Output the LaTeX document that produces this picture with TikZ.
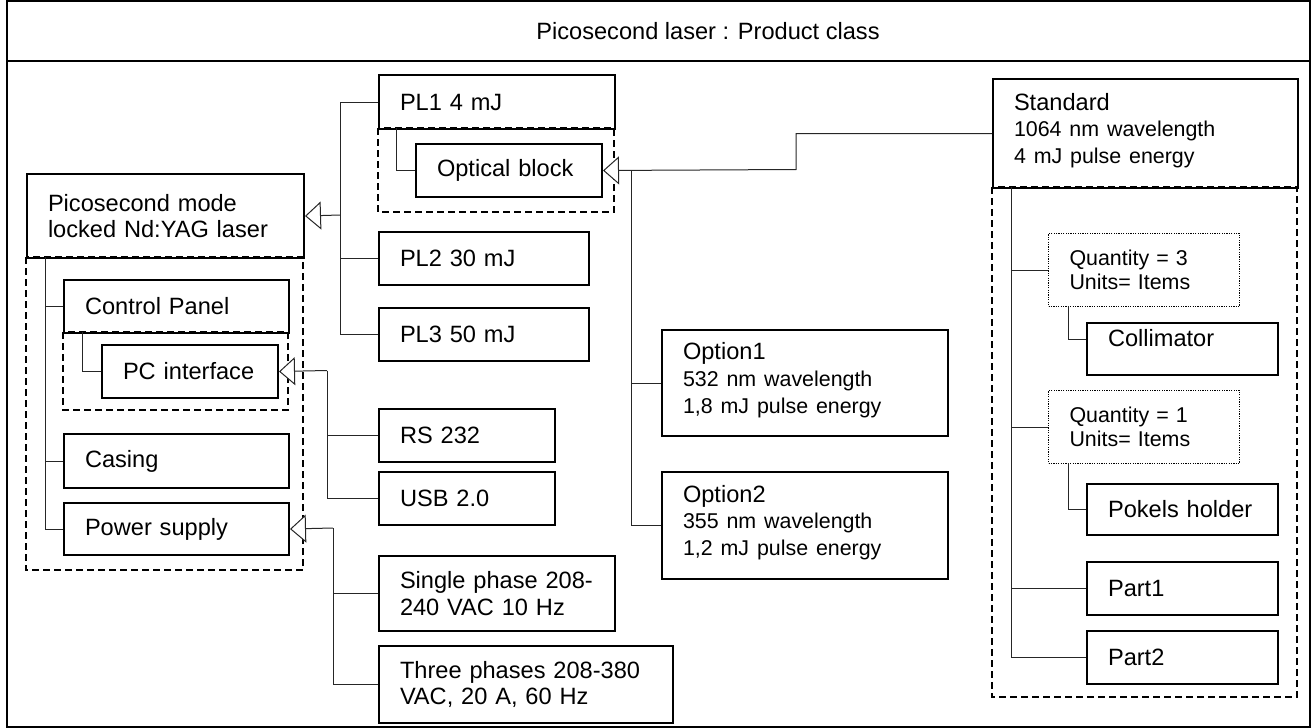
\documentclass[tikz,border=0pt]{standalone}
\usepackage{fontspec}
\setmainfont{Liberation Sans}
\usetikzlibrary{arrows.meta}
\newcommand\mainf{\fontsize{11.8}{13.4}\selectfont}
\newcommand\smallf{\fontsize{10.7}{12}\selectfont}
\newcommand\lowstrut{\rule[-5pt]{0pt}{0pt}}
\newcommand\colstrut{\rule[-11pt]{0pt}{0pt}}
\begin{document}
\begin{tikzpicture}[x=0.5pt,y=-0.5pt,
  bx/.style={draw, line width=1pt, anchor=north west, inner xsep=10.5pt, inner ysep=0pt, align=left, font=\mainf},
  qbox/.style={bx, line width=0.5pt, dash pattern=on 0.6pt off 0.6pt, font=\smallf},
  B/.style n args={3}{minimum width=#1, minimum height=#2, text width=#3},
  ln/.style={line width=0.5pt, draw=black!85},
  gen/.style={ln, -{Triangle[length=8pt,width=14pt,fill=white,line width=0.5pt]}},
  dbox/.style={line width=0.7pt, dash pattern=on 3.5pt off 2pt}]
\useasboundingbox (0,0) rectangle (1313,728);
% frame
\draw[line width=1pt] (7,1) rectangle (1310,727);
\draw[line width=1pt] (7,61) -- (1310,61);
\node[font=\mainf, anchor=west, inner sep=0pt] (title) at (536,31) {Picosecond laser : Product class};

% left part
\node[bx, B={138.5pt}{42pt}{117.5pt}] (pico) at (26,173) {Picosecond mode\\locked Nd:YAG laser};
\draw[dbox] (26,257) rectangle (303,570);
\node[bx, B={112.5pt}{26.5pt}{91.5pt}] (cp) at (63,279) {Control Panel};
\draw[dbox] (63,332) rectangle (288,410);
\node[bx, B={88pt}{26.5pt}{67pt}] (pci) at (101,344) {PC interface};
\node[bx, B={112.5pt}{27pt}{91.5pt}] (cas) at (63,433) {Casing};
\node[bx, B={112.5pt}{26pt}{91.5pt}] (ps) at (63,502) {Power supply};

% PL column
\node[bx, B={118pt}{27pt}{97pt}] (pl1) at (378,74) {PL1 4 mJ};
\draw[dbox] (378,128) rectangle (614,212);
\node[bx, B={93pt}{26.5pt}{72pt}] (ob) at (415,143) {Optical block};
\node[bx, B={105pt}{26.5pt}{84pt}] (pl2) at (378,231) {PL2 30 mJ};
\node[bx, B={105pt}{26.5pt}{84pt}] (pl3) at (378,307) {PL3 50 mJ};
\node[bx, B={88pt}{26.5pt}{67pt}] (rs) at (378,408) {RS 232};
\node[bx, B={88pt}{26.5pt}{67pt}] (usb) at (378,471) {USB 2.0};
\node[bx, B={118pt}{37.5pt}{97pt}] (sp) at (378,555) {Single phase 208-\\240 VAC 10 Hz};
\node[bx, B={147pt}{38.5pt}{126pt}] (tp) at (378,645) {Three phases 208-380\\VAC, 20 A, 60 Hz};

% options
\node[bx, B={143pt}{53pt}{122pt}] (opt1) at (661,329) {Option1\\[1.2pt]\smallf 532 nm wavelength\\1,8 mJ pulse energy\lowstrut};
\node[bx, B={143pt}{53.5pt}{122pt}] (opt2) at (661,471) {Option2\\[1.2pt]\smallf 355 nm wavelength\\1,2 mJ pulse energy\lowstrut};

% standard
\node[bx, B={152.5pt}{54.5pt}{131.5pt}] (std) at (992,78) {Standard\\[1.2pt]\smallf 1064 nm wavelength\\4 mJ pulse energy\lowstrut};
\draw[dbox] (992,187) rectangle (1297,697);
\node[qbox, B={95.5pt}{36.5pt}{74.5pt}] (q3) at (1048,233) {Quantity = 3\\Units= Items};
\node[bx, B={95.5pt}{26pt}{74.5pt}] (col) at (1086,322) {Collimator\colstrut};
\node[qbox, B={95.5pt}{36.5pt}{74.5pt}] (q1) at (1048,390) {Quantity = 1\\Units= Items};
\node[bx, B={95.5pt}{25.5pt}{74.5pt}] (pok) at (1086,483) {Pokels holder};
\node[bx, B={95.5pt}{26.5pt}{74.5pt}] (p1) at (1086,561) {Part1};
\node[bx, B={95.5pt}{26.5pt}{74.5pt}] (p2) at (1086,630) {Part2};

% junctions
\coordinate (jpl) at (340,215);
\coordinate (jpc) at (327,370.5);
\coordinate (jps) at (333,528);
\coordinate (job) at (631,169.5);
\coordinate (kink) at (796,169.5);
\coordinate (c1) at (45,257);
\coordinate (c2) at (82.7,332);
\coordinate (c3) at (396.7,128);
\coordinate (c4) at (1011.7,187);
\coordinate (c5) at (1068,306);
\coordinate (c6) at (1068,463);
\coordinate (colin) at ([yshift=5pt]col.west);

% composition lines
\draw[ln] (cp.west) -| (c1);
\draw[ln] (cas.west) -| (c1);
\draw[ln] (ps.west) -| (c1);
\draw[ln] (pci.west) -| (c2);
\draw[ln] (ob.west) -| (c3);
\draw[ln] (q3.west) -| (c4);
\draw[ln] (q1.west) -| (c4);
\draw[ln] (p1.west) -| (c4);
\draw[ln] (p2.west) -| (c4);
\draw[ln] (colin) -| (c5);
\draw[ln] (pok.west) -| (c6);

% generalization lines
\draw[ln] (pl1.west) -| (jpl);
\draw[ln] (pl2.west) -| (jpl);
\draw[ln] (pl3.west) -| (jpl);
\draw[gen] (jpl) -- (pico.east);
\draw[ln] (rs.west) -| (jpc);
\draw[ln] (usb.west) -| (jpc);
\draw[gen] (jpc) -- (pci.east);
\draw[ln] (sp.west) -| (jps);
\draw[ln] (tp.west) -| (jps);
\draw[gen] (jps) -- (ps.east);
\draw[ln] (opt1.west) -| (job);
\draw[ln] (opt2.west) -| (job);
\draw[gen] (std.west) -| (kink) -- (ob.east);
\end{tikzpicture}
\end{document}
